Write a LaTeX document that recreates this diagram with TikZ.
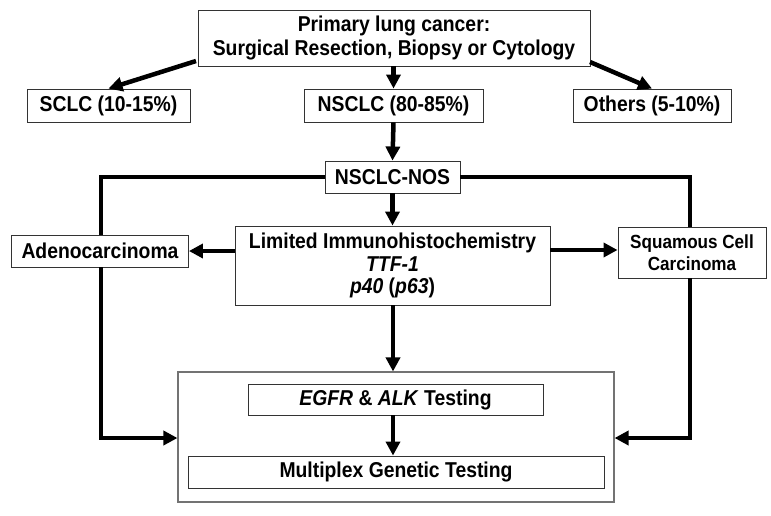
\documentclass[tikz,border=0pt]{standalone}
\usepackage{fontspec}
\setmainfont{Liberation Sans}[FakeStretch=0.9]
\usetikzlibrary{arrows.meta,calc}
\tikzset{
  box/.style={draw=black!80, line width=0.9pt, fill=white, align=center, inner sep=0pt,
    font=\fontsize{21.5}{23}\selectfont\bfseries},
  bigbox/.style={draw=black!55, line width=1.1pt, inner sep=0pt},
  conn/.style={line width=4.5pt, black},
  arr/.style={conn, -{Triangle[length=14pt,width=14pt]}},
}
\begin{document}
\begin{tikzpicture}[x=1pt,y=-1pt]
\useasboundingbox (0,0) rectangle (771,515);
% nodes
\node[box, minimum width=392pt, minimum height=56pt, font=\fontsize{21.5}{24}\selectfont\bfseries] (top) at (394,38)
  {Primary lung cancer:\\Surgical Resection, Biopsy or Cytology};
\node[box, minimum width=163pt, minimum height=33pt] (sclc) at (108.5,105.5) {SCLC (10-15\%)};
\node[box, minimum width=179pt, minimum height=33pt] (nsclc) at (393.5,105.5) {NSCLC (80-85\%)};
\node[box, minimum width=158pt, minimum height=33pt] (others) at (652,105.5) {Others (5-10\%)};
\node[box, minimum width=135pt, minimum height=32pt] (nos) at (392.5,177) {NSCLC-NOS};
\node[box, minimum width=177pt, minimum height=32pt] (adeno) at (100,251) {Adenocarcinoma};
\node[box, minimum width=315pt, minimum height=79pt, font=\fontsize{21.5}{22.5}\selectfont\bfseries] (ihc) at (392.5,265.5)
  {Limited Immunohistochemistry\\\textit{TTF-1}\\\textit{p40} (\textit{p63})};
\node[box, minimum width=148pt, minimum height=51pt, font=\fontsize{19}{21.5}\selectfont\bfseries] (squam) at (692,252.5)
  {Squamous Cell\\Carcinoma};
\node[bigbox, minimum width=436pt, minimum height=130pt] (big) at (396,437) {};
\node[box, minimum width=295pt, minimum height=31pt] (egfr) at (395.5,399.5) {\textit{EGFR} \& \textit{ALK} Testing};
\node[box, minimum width=416pt, minimum height=32pt] (multi) at (396,472) {Multiplex Genetic Testing};
% helper coordinates
\coordinate (tl) at (196,61);
\coordinate (tr) at (590,62);
\coordinate (lx) at (101,177);
\coordinate (rx) at (690,177);
\coordinate (lb) at (101,438);
\coordinate (rb) at (690,438);
% connectors
\draw[arr] (tl) -- (sclc.north);
\draw[arr] (tr) -- (others.north);
\draw[arr] (nsclc.north |- top.south) -- (nsclc.north);
\draw[arr] (nsclc.south) -- (nos.north);
\draw[arr] (ihc.north |- nos.south) -- (ihc.north);
\draw[conn] (nos.west) -- (lx) -- (lx |- adeno.north);
\draw[conn] (nos.east) -- (rx) -- (rx |- squam.north);
\draw[arr] (lx |- adeno.south) -- (lb) -- (big.west |- lb);
\draw[arr] (rx |- squam.south) -- (rb) -- (big.east |- rb);
\draw[arr] (ihc.west |- adeno.east) -- (adeno.east);
\draw[arr] (ihc.east |- 0,250) -- (squam.west |- 0,250);
\draw[arr] (ihc.south -| 393,0) -- (big.north -| 393,0);
\draw[arr] (egfr.south -| 393,0) -- (multi.north -| 393,0);
\end{tikzpicture}
\end{document}
